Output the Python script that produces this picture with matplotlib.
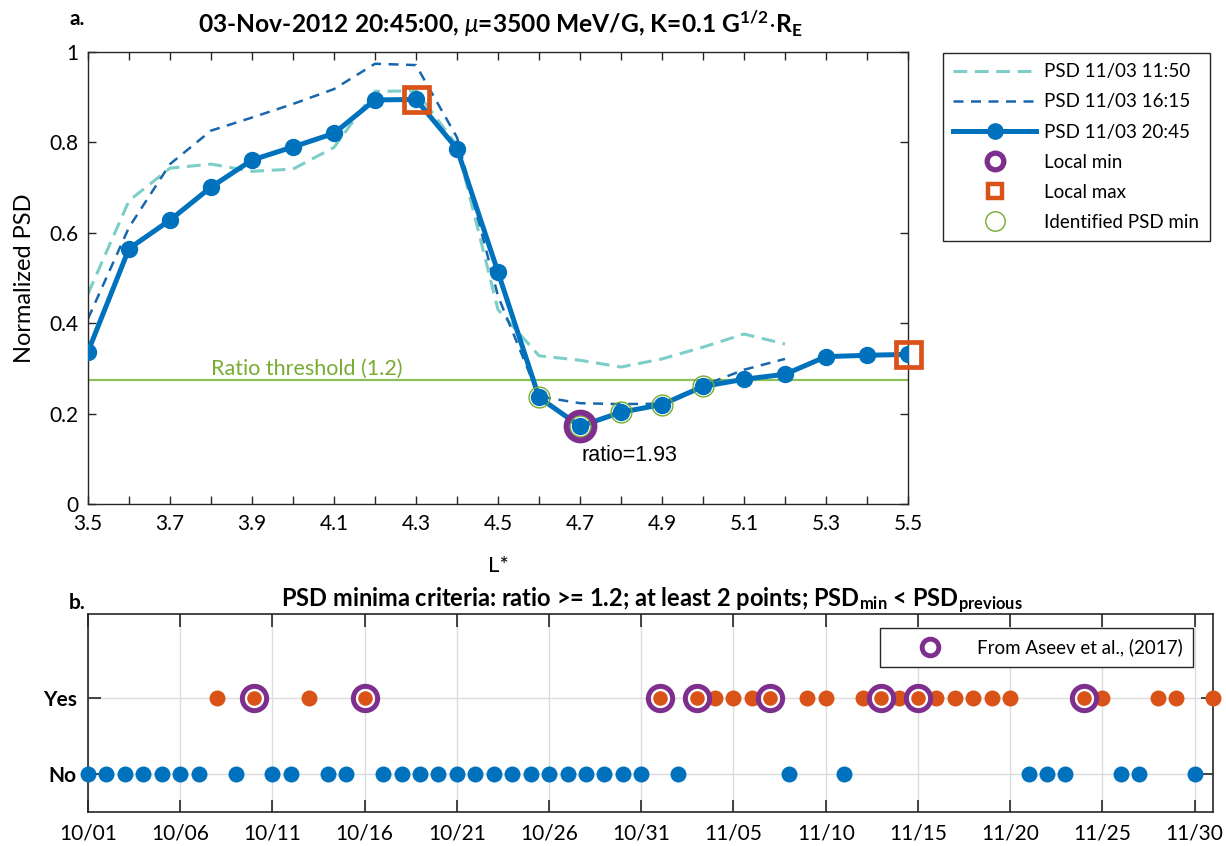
import numpy as np
import matplotlib
matplotlib.use('Agg')
import matplotlib.pyplot as plt
import matplotlib.dates as mdates
from matplotlib.lines import Line2D

plt.rcParams['font.family'] = ['Lato', 'DejaVu Sans']
plt.rcParams['mathtext.fontset'] = 'custom'
plt.rcParams['mathtext.rm'] = 'Lato'
plt.rcParams['mathtext.it'] = 'Lato:italic'
plt.rcParams['mathtext.bf'] = 'Lato:bold'
plt.rcParams['mathtext.default'] = 'regular'

# ---- panel a data (normalized PSD vs L*)
L_all = [3.5, 3.6, 3.7, 3.8, 3.9, 4.0, 4.1, 4.2, 4.3, 4.4, 4.5,
         4.6, 4.7, 4.8, 4.9, 5.0, 5.1, 5.2, 5.3, 5.4, 5.5]
psd_2045 = [0.337, 0.565, 0.628, 0.701, 0.761, 0.790, 0.820, 0.894, 0.895, 0.786, 0.513,
            0.236, 0.172, 0.203, 0.220, 0.260, 0.276, 0.287, 0.326, 0.329, 0.331]
L_short = [3.5, 3.6, 3.7, 3.8, 3.9, 4.0, 4.1, 4.2, 4.3, 4.4, 4.5,
           4.6, 4.7, 4.8, 4.9, 5.0, 5.1, 5.2]
psd_1150 = [0.465, 0.671, 0.743, 0.752, 0.736, 0.741, 0.789, 0.913, 0.914, 0.793, 0.43,
            0.328, 0.318, 0.303, 0.321, 0.347, 0.376, 0.354]
psd_1615 = [0.41, 0.612, 0.752, 0.826, 0.855, 0.885, 0.918, 0.974, 0.971, 0.811, 0.46,
            0.238, 0.223, 0.221, 0.222, 0.262, 0.297, 0.321]
local_min_L = [4.7]
local_max_L = [4.3, 5.5]
ident_min_L = [4.6, 4.7, 4.8, 4.9, 5.0]
threshold = 0.275

# ---- panel b data (days with / without PSD minimum)
yes_days = ['10-08', '10-10', '10-13', '10-16', '11-01', '11-03', '11-04', '11-05', '11-06',
            '11-07', '11-09', '11-10', '11-12', '11-13', '11-14', '11-15', '11-16', '11-17',
            '11-18', '11-19', '11-20', '11-24', '11-25', '11-28', '11-29', '12-01']
no_days = ['10-01', '10-02', '10-03', '10-04', '10-05', '10-06', '10-07', '10-09', '10-11',
           '10-12', '10-14', '10-15', '10-17', '10-18', '10-19', '10-20', '10-21', '10-22',
           '10-23', '10-24', '10-25', '10-26', '10-27', '10-28', '10-29', '10-30', '10-31',
           '11-02', '11-08', '11-11', '11-21', '11-22', '11-23', '11-26', '11-27', '11-30']
aseev_days = ['10-10', '10-16', '11-01', '11-03', '11-07', '11-13', '11-15', '11-24']
tick_days = ['10-01', '10-06', '10-11', '10-16', '10-21', '10-26', '10-31',
             '11-05', '11-10', '11-15', '11-20', '11-25', '11-30']

def to_dates(lst):
    return [np.datetime64('2012-' + s) for s in lst]

blue = '#0072BD'
dblue = '#1767AE'
teal = '#7DCDC8'
orange = '#D95319'
purple = '#7E2F8E'
green = '#77AC30'
axc = '#262626'

lookup = dict(zip(L_all, psd_2045))

fig = plt.figure(figsize=(12.26, 8.46), dpi=100)

# ================= panel a
ax = fig.add_axes([88/1226, 1-504/846, 820/1226, 452/846])
ax.axhline(threshold, color='#8DC05A', lw=1.6, zorder=1)
ax.plot(L_short, psd_1150, color=teal, lw=2.2, dashes=(4.5, 2.5), zorder=2)
ax.plot(L_short, psd_1615, color=dblue, lw=1.8, dashes=(4, 3), zorder=2)
ax.plot(L_all, psd_2045, color=blue, lw=3.6, marker='o', ms=11.5, zorder=3)
ax.plot(ident_min_L, [lookup[v] for v in ident_min_L], ls='none', marker='o', ms=15,
        mfc='none', mec=green, mew=1.0, zorder=4)
ax.plot(local_min_L, [lookup[v] for v in local_min_L], ls='none', marker='o', ms=20,
        mfc='none', mec=purple, mew=4.3, zorder=5)
ax.plot(local_max_L, [lookup[v] for v in local_max_L], ls='none', marker='s', ms=18,
        mfc='none', mec=orange, mew=3.4, zorder=5, clip_on=False)

ax.text(3.8, 0.30, 'Ratio threshold (1.2)', color=green, fontsize=15.5, va='center')
ax.text(4.703, 0.108, 'ratio=1.93', fontsize=15.5, va='center',
        family=['Liberation Sans', 'DejaVu Sans'])

ax.set_xlim(3.5, 5.5)
ax.set_ylim(0, 1)
ax.set_xticks([3.5, 3.7, 3.9, 4.1, 4.3, 4.5, 4.7, 4.9, 5.1, 5.3, 5.5])
ax.set_xticks([3.6, 3.8, 4.0, 4.2, 4.4, 4.6, 4.8, 5.0, 5.2, 5.4], minor=True)
ax.set_yticks([0, 0.2, 0.4, 0.6, 0.8, 1])
ax.set_yticklabels(['0', '0.2', '0.4', '0.6', '0.8', '1'])
ax.tick_params(which='both', direction='in', top=True, right=True, length=6,
               width=1, color=axc, labelsize=15, pad=7)
for s in ax.spines.values():
    s.set_color(axc)
    s.set_linewidth(1)
ax.set_xlabel('L*', fontsize=16, labelpad=16)
ax.set_ylabel('Normalized PSD', fontsize=17, labelpad=10)

fig.text(500/1226, 1-33/846,
         r'03-Nov-2012 20:45:00, $\mathit{\mu}$=3500 MeV/G, K=0.1 G$^{1/2}$$\cdot$R$_E$',
         ha='center', va='baseline', fontsize=17.7, fontweight='bold')
fig.text(69/1226, 1-19/846, 'a.', fontsize=15, fontweight='bold', va='center')

handles = [
    Line2D([], [], color=teal, lw=2.2, dashes=(4.5, 2.5)),
    Line2D([], [], color=dblue, lw=1.8, dashes=(4, 3)),
    Line2D([], [], color=blue, lw=3.6, marker='o', ms=11),
    Line2D([], [], ls='none', marker='o', ms=12, mfc='none', mec=purple, mew=3.8),
    Line2D([], [], ls='none', marker='s', ms=10.5, mfc='none', mec=orange, mew=3.2),
    Line2D([], [], ls='none', marker='o', ms=14, mfc='none', mec=green, mew=1.0),
]
labels = ['PSD 11/03 11:50', 'PSD 11/03 16:15', 'PSD 11/03 20:45',
          'Local min', 'Local max', 'Identified PSD min']
leg = fig.legend(handles, labels, loc='upper left',
                 bbox_to_anchor=(943/1226, 1-53/846), fontsize=13.5, numpoints=1,
                 handlelength=4.4, handletextpad=0.45, labelspacing=0.7,
                 borderpad=0.55, borderaxespad=0, fancybox=False, framealpha=1)
leg.get_frame().set_edgecolor(axc)
leg.get_frame().set_linewidth(1)

# ================= panel b
bx = fig.add_axes([88/1226, 1-812/846, 1125/1226, 198/846])
bx.grid(True, color='#dcdcdc', lw=1)
bx.set_axisbelow(True)
bx.plot(to_dates(no_days), [0]*len(no_days), ls='none', marker='o', ms=11.5,
        mfc=blue, mec='none', clip_on=False, zorder=3)
bx.plot(to_dates(yes_days), [1]*len(yes_days), ls='none', marker='o', ms=11.5,
        mfc=orange, mec='none', clip_on=False, zorder=3)
bx.plot(to_dates(aseev_days), [1]*len(aseev_days), ls='none', marker='o', ms=17.5,
        mfc='none', mec=purple, mew=3.6, zorder=4)
bx.plot(to_dates(aseev_days), [1]*len(aseev_days), ls='none', marker='o', ms=11.5,
        mfc=orange, mec='white', mew=1.0, zorder=5)

bx.set_xlim(np.datetime64('2012-10-01'), np.datetime64('2012-12-01'))
bx.set_ylim(-0.5, 2.1)
bx.set_xticks(to_dates(tick_days))
bx.xaxis.set_major_formatter(mdates.DateFormatter('%m/%d'))
bx.set_yticks([0, 1])
bx.set_yticklabels(['No', 'Yes'], fontweight='bold', fontsize=15.5)
bx.tick_params(direction='in', top=True, right=True, length=9, width=1.2, color=axc,
               labelsize=15, pad=8)
for s in bx.spines.values():
    s.set_color(axc)
    s.set_linewidth(1.2)

fig.text(652/1226, 1-607/846,
         r'PSD minima criteria: ratio >= 1.2; at least 2 points; PSD$_{min}$ < PSD$_{previous}$',
         ha='center', va='baseline', fontsize=17, fontweight='bold')
fig.text(69/1226, 1-603/846, 'b.', fontsize=15, fontweight='bold', va='center')

h2 = [Line2D([], [], ls='none', marker='o', ms=12, mfc='white', mec=purple, mew=3.5)]
leg2 = fig.legend(h2, ['From Aseev et al., (2017)'], loc='upper left',
                  bbox_to_anchor=(880/1226, 1-628/846), fontsize=13.5, numpoints=1,
                  handlelength=4.2, handletextpad=0.4, borderpad=0.55,
                  borderaxespad=0, fancybox=False, framealpha=1)
leg2.get_frame().set_edgecolor(axc)
leg2.get_frame().set_linewidth(1)

fig.savefig('out.png', dpi=100)
